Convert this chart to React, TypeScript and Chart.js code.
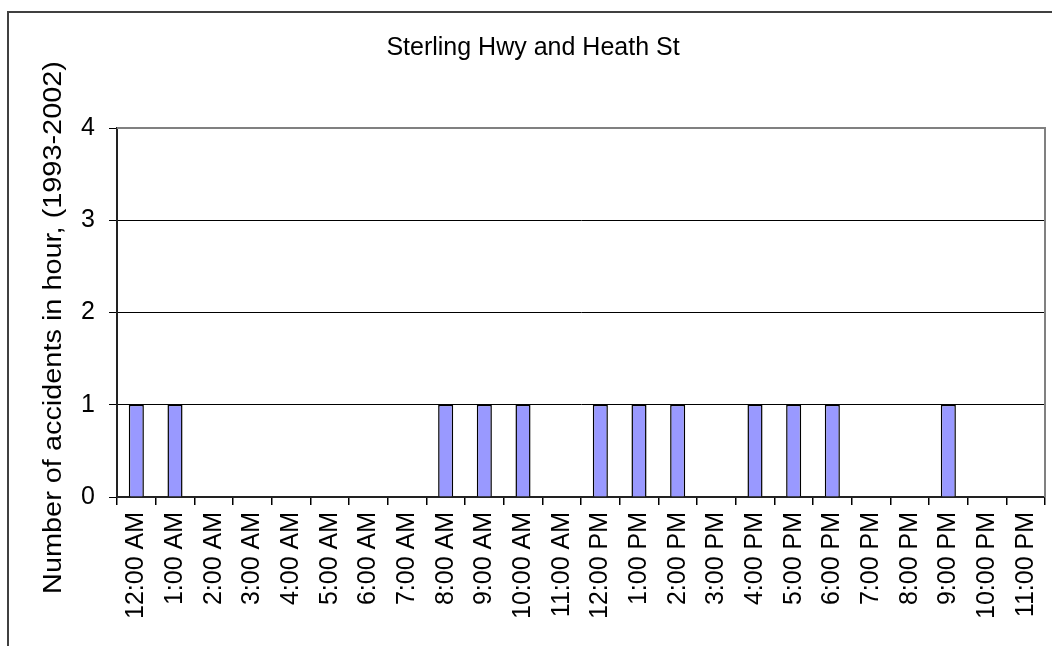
import React, { useEffect, useRef } from "react";
import { Chart, registerables } from "chart.js";

Chart.register(...registerables);

const TITLE = "Sterling Hwy and Heath St";
const Y_TITLE = "Number of accidents in hour, (1993-2002)";
const HOURS = [
  "12:00 AM", "1:00 AM", "2:00 AM", "3:00 AM", "4:00 AM", "5:00 AM",
  "6:00 AM", "7:00 AM", "8:00 AM", "9:00 AM", "10:00 AM", "11:00 AM",
  "12:00 PM", "1:00 PM", "2:00 PM", "3:00 PM", "4:00 PM", "5:00 PM",
  "6:00 PM", "7:00 PM", "8:00 PM", "9:00 PM", "10:00 PM", "11:00 PM",
];
const ACCIDENTS = [1, 1, 0, 0, 0, 0, 0, 0, 1, 1, 1, 0, 1, 1, 1, 0, 1, 1, 1, 0, 0, 1, 0, 0];
const Y_MIN = 0;
const Y_MAX = 4;
const Y_STEP = 1;

const FONT = '"Liberation Sans", Arial, sans-serif';

const framePlugin = {
  id: "frame",
  afterDraw(chart: any) {
    const { ctx, chartArea: a } = chart;
    ctx.save();
    // plot area border (top & right, grey)
    ctx.strokeStyle = "#808080";
    ctx.lineWidth = 2;
    ctx.beginPath();
    ctx.moveTo(a.left, a.top);
    ctx.lineTo(a.right, a.top);
    ctx.lineTo(a.right, a.bottom);
    ctx.stroke();
    // outer chart frame (clipped on right/bottom)
    ctx.strokeStyle = "#404040";
    ctx.lineWidth = 2;
    ctx.beginPath();
    ctx.moveTo(8, 646);
    ctx.lineTo(8, 12);
    ctx.lineTo(1052, 12);
    ctx.stroke();
    // chart title
    ctx.fillStyle = "#000";
    ctx.font = `25px ${FONT}`;
    ctx.textAlign = "center";
    ctx.textBaseline = "alphabetic";
    ctx.fillText(TITLE, 533, 55);
    // y axis title (stretched along its length like the original)
    ctx.translate(61, 327.5);
    ctx.rotate(-Math.PI / 2);
    ctx.scale(1.155, 1);
    ctx.fillText(Y_TITLE, 0, 0);
    ctx.restore();
  },
};

export default function App() {
  const ref = useRef<HTMLCanvasElement | null>(null);

  useEffect(() => {
    if (!ref.current) return;
    const chart = new Chart(ref.current, {
      type: "bar",
      data: {
        labels: HOURS,
        datasets: [
          {
            data: ACCIDENTS,
            backgroundColor: "#9999FF",
            borderColor: "#000000",
            borderWidth: 1.5,
            barPercentage: 0.39,
            categoryPercentage: 1,
          },
        ],
      },
      options: {
        animation: false,
        responsive: false,
        devicePixelRatio: 1,
        layout: { padding: { left: 0, top: 128, right: 7, bottom: 0 } },
        plugins: {
          legend: { display: false },
          title: { display: false },
          tooltip: { enabled: false },
        },
        scales: {
          x: {
            offset: true,
            grid: {
              display: true,
              offset: true,
              drawOnChartArea: false,
              drawTicks: true,
              tickLength: 8,
              color: "#000",
              lineWidth: 1.5,
            },
            border: { display: true, color: "#222", width: 2 },
            ticks: {
              color: "#000",
              font: { size: 25, family: FONT },
              minRotation: 90,
              maxRotation: 90,
              autoSkip: false,
              padding: 7,
            },
            afterFit: (s: any) => {
              s.height = 149;
              s.paddingLeft = 0;
              s.paddingRight = 0;
            },
          },
          y: {
            min: Y_MIN,
            max: Y_MAX,
            ticks: {
              stepSize: Y_STEP,
              color: "#000",
              font: { size: 25, family: FONT },
              padding: 14,
            },
            grid: {
              color: (c: any) => (c.tick && c.tick.value === Y_MAX ? "#808080" : "#000"),
              tickColor: "#000",
              lineWidth: 1,
              tickLength: 8,
            },
            border: { display: true, color: "#222", width: 2 },
            afterFit: (s: any) => {
              s.width = 117;
            },
          },
        },
      },
      plugins: [framePlugin],
    });
    return () => chart.destroy();
  }, []);

  return (
    <div style={{ position: "absolute", left: 0, top: 0, width: 1052, height: 646, background: "#fff" }}>
      <canvas ref={ref} width={1052} height={646} style={{ display: "block" }} />
    </div>
  );
}
